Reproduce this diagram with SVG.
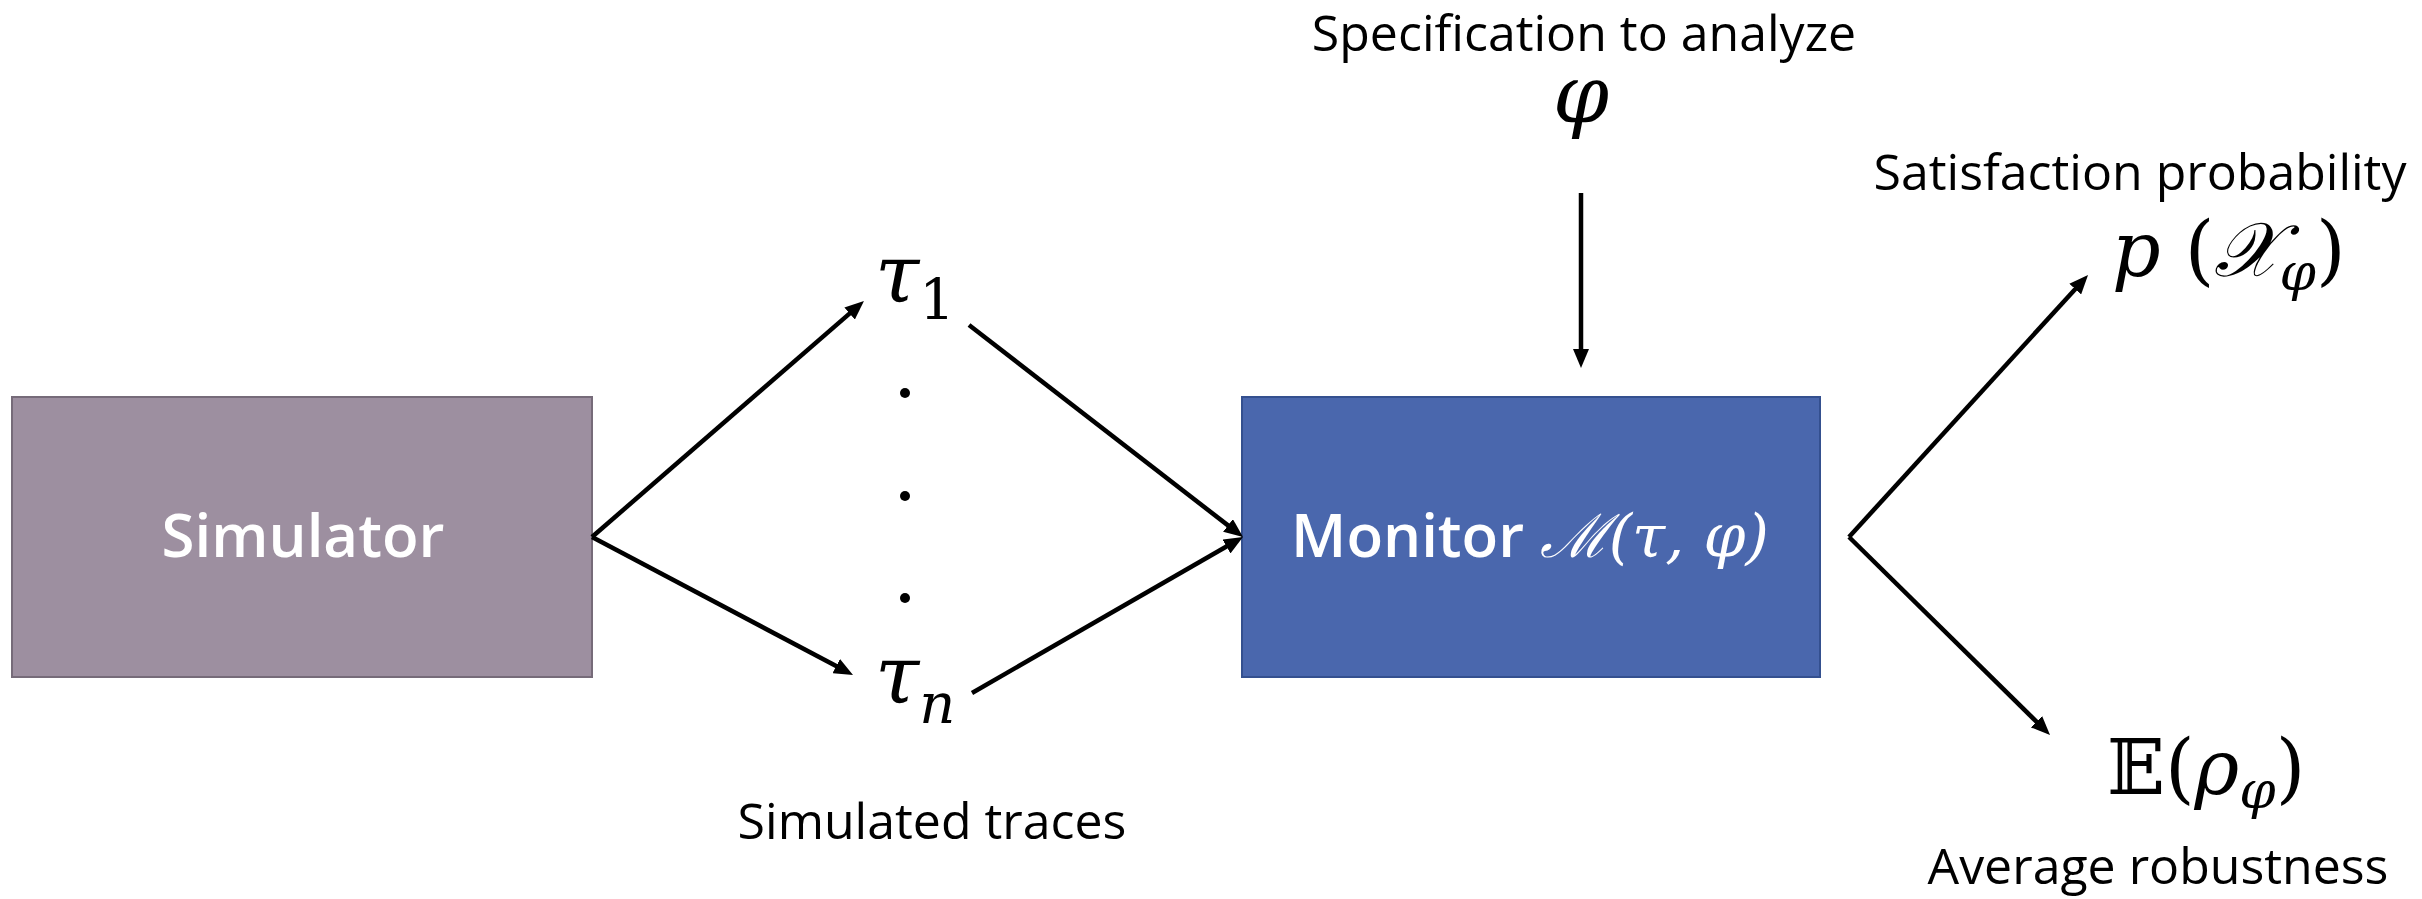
<svg xmlns="http://www.w3.org/2000/svg" width="2422" height="899" viewBox="0 0 2422 899">
<style>
.lbl{font-family:"Open Sans","Noto Sans",sans-serif;font-size:50px;fill:#000;text-anchor:middle}
.boxt{font-family:"Open Sans","Noto Sans",sans-serif;font-size:60px;font-weight:600;fill:#fff;text-anchor:middle}
.m{font-family:"DejaVu Serif","Liberation Serif",serif;font-style:italic}
.up{font-style:normal}
.conn{stroke:#000;stroke-width:4.5;fill:none}
</style>
<defs>
<marker id="ah" viewBox="0 0 19 16" refX="9" refY="8" markerWidth="19" markerHeight="16" markerUnits="userSpaceOnUse" orient="auto">
<path d="M0,0 L19,8 L0,16 z" fill="#000"/>
</marker>
</defs>
<rect width="2422" height="899" fill="#fff"/>
<g id="simulator">
<rect x="12" y="397" width="580" height="280" fill="#9D8FA0" stroke="#766B79" stroke-width="2"/>
<text class="boxt" x="303" y="557">Simulator</text>
</g>
<g id="monitor">
<rect x="1242" y="397" width="578" height="280" fill="#4A67AD" stroke="#34508F" stroke-width="2"/>
<text class="boxt" x="1530" y="557">Monitor <tspan class="m" font-weight="400">ℳ(τ, φ)</tspan></text>
</g>
<g id="traces">
<text class="m" x="875" y="302" font-size="80">τ<tspan class="up" font-size="56" dy="17">1</tspan></text>
<circle cx="905" cy="393" r="5" fill="#000"/>
<circle cx="905" cy="496" r="5" fill="#000"/>
<circle cx="905" cy="598" r="5" fill="#000"/>
<text class="m" x="875" y="703" font-size="80">τ<tspan font-size="56" dy="20">n</tspan></text>
<text class="lbl" x="932" y="839">Simulated traces</text>
</g>
<g id="spec">
<text class="lbl" x="1584" y="51">Specification to analyze</text>
<text class="m" x="1581" y="122" font-size="80" text-anchor="middle">φ</text>
</g>
<g id="prob">
<text class="lbl" x="2140" y="190">Satisfaction probability</text>
<text class="m" x="2112" y="276" font-size="76">p <tspan class="up">(</tspan>𝒳<tspan font-size="52" dy="14">φ</tspan><tspan class="up" dy="-14">)</tspan></text>
</g>
<g id="robust">
<text class="m" x="2107" y="794" font-size="76"><tspan class="up">𝔼(</tspan>ρ<tspan font-size="52" dy="14">φ</tspan><tspan class="up" dy="-14">)</tspan></text>
<text class="lbl" x="2158" y="884" font-size="51">Average robustness</text>
</g>
<g id="connectors">
<path class="conn" d="M592,537 L856.4,307.6" marker-end="url(#ah)"/>
<path class="conn" d="M592,537 L844.2,670.3" marker-end="url(#ah)"/>
<path class="conn" d="M969,325 L1235.1,530.9" marker-end="url(#ah)"/>
<path class="conn" d="M972,693 L1234.3,542" marker-end="url(#ah)"/>
<path class="conn" d="M1581,193 L1581,358" marker-end="url(#ah)"/>
<path class="conn" d="M1849,537 L2081.3,282.4" marker-end="url(#ah)"/>
<path class="conn" d="M1849,537 L2042.9,728" marker-end="url(#ah)"/>
</g>
</svg>
